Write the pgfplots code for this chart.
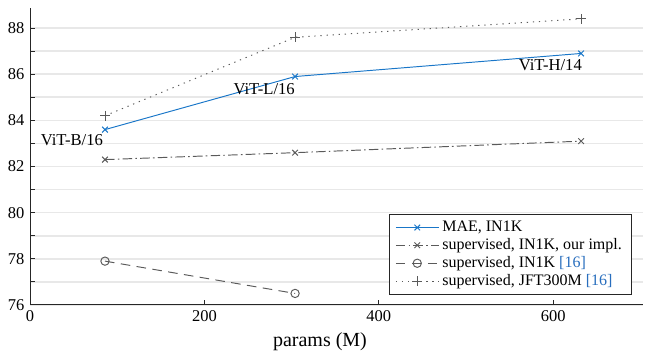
\documentclass[border=0pt]{standalone}
\usepackage{pgfplots}
\pgfplotsset{compat=1.18}
\usepackage{fontspec}
\setmainfont{Liberation Serif}
\definecolor{maeblue}{RGB}{25,118,200}
\definecolor{citeblue}{RGB}{40,110,190}
\definecolor{dgray}{RGB}{90,90,90}
\begin{document}
\begin{tikzpicture}
\begin{axis}[
  scale only axis,
  width=383.1pt, height=185.6pt,
  xmin=0, xmax=703, ymin=76, ymax=88.87,
  axis lines=left,
  axis line style={-, line width=0.6pt, black!85},
  tick align=inside,
  major tick length=3pt, minor tick length=3pt,
  tick style={line width=0.6pt, black!85},
  xtick={0,200,400,600},
  ytick={76,78,80,82,84,86,88},
  minor ytick={77,79,81,83,85,87},
  ymajorgrids, yminorgrids,
  major grid style={line width=1pt, black!9},
  minor grid style={line width=1pt, black!9},
  /pgf/number format/assume math mode=true,
  ticklabel style={font=\fontsize{10.3}{12}\selectfont},
  xlabel={params (M)},
  xlabel style={font=\fontsize{12.5}{14}\selectfont, at={(rel axis cs:0.473,0)}, anchor=north, yshift=-14pt},
  legend style={at={(rel axis cs:0.982,0.034)}, anchor=south east,
    font=\fontsize{10}{12}\selectfont, draw=black!85, line width=0.6pt,
    row sep=-1.2pt, inner ysep=2pt, inner xsep=4pt},
  legend cell align=left,
  legend image code/.code={\draw[mark repeat=2,mark phase=2] plot coordinates {(0cm,0cm)(0.47cm,0cm)(0.94cm,0cm)};},
  clip=false,
]
\addplot[color=maeblue, line width=0.6pt, mark=x, mark size=2.5pt, mark options={solid}]
  coordinates {(86,83.6) (304,85.9) (632,86.9)};
\addlegendentry{MAE, IN1K}
\addplot[color=dgray, line width=0.6pt, dash pattern=on 6pt off 2pt on 1pt off 2pt, mark=x, mark size=2.5pt, mark options={solid}]
  coordinates {(86,82.3) (304,82.6) (632,83.1)};
\addlegendentry{supervised, IN1K, our impl.}
\addplot[color=dgray, line width=0.6pt, dash pattern=on 6pt off 4pt, mark=o, mark size=2.6pt, mark options={solid}]
  coordinates {(86,77.9) (304,76.5)};
\addlegendentry{supervised, IN1K \textcolor{citeblue}{[16]}}
\addplot[color=dgray, line width=0.6pt, dash pattern=on 0.8pt off 3pt, mark=+, mark size=3pt, mark options={solid}]
  coordinates {(86,84.2) (304,87.6) (632,88.4)};
\addlegendentry{supervised, JFT300M \textcolor{citeblue}{[16]}}
\node[font=\fontsize{10.4}{12}\selectfont] at (axis cs:48,83.15) {ViT-B/16};
\node[font=\fontsize{10.4}{12}\selectfont] at (axis cs:268.5,85.36) {ViT-L/16};
\node[font=\fontsize{10.4}{12}\selectfont] at (axis cs:596.7,86.40) {ViT-H/14};
\end{axis}
\pgfresetboundingbox
\path[use as bounding box] ([shift={(-18.75pt,-36.25pt)}]current axis.south west) rectangle ([shift={(7.5pt,5pt)}]current axis.north east);
\end{tikzpicture}
\end{document}
